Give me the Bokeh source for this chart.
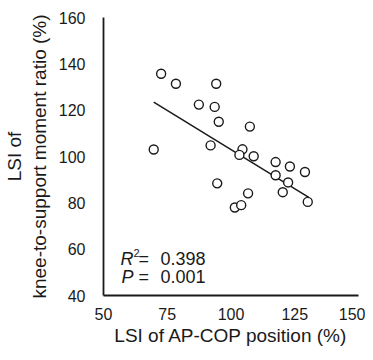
from bokeh.plotting import figure
from bokeh.models import Label, FixedTicker
from bokeh.embed import file_html
from bokeh.resources import INLINE

# data
lsi_cop = [72.6, 78.4, 94.2, 87.4, 93.6, 95.2, 107.4, 69.7, 92.0, 104.5, 103.3, 108.9,
           117.5, 123.1, 129.0, 117.5, 122.4, 94.6, 106.7, 120.3, 101.5, 104.0, 130.1]
lsi_moment = [135.7, 131.4, 131.4, 122.4, 121.4, 115.0, 112.9, 103.0, 104.8, 103.1, 100.7, 100.1,
              97.6, 95.7, 93.3, 91.9, 88.8, 88.4, 84.1, 84.6, 78.0, 79.0, 80.4]
fit_x = [69.7, 130.5]
fit_y = [123.5, 82.4]
x_ticks = [50, 75, 100, 125, 150]
y_ticks = [40, 60, 80, 100, 120, 140, 160]
r2_text = "0.398"
p_text = "0.001"

FONT = "Liberation Sans"
COL = "#1a1a1a"

p = figure(width=365, height=348, x_range=(50, 150), y_range=(40, 160),
           output_backend="svg", toolbar_location=None,
           min_border_left=103, min_border_right=7, min_border_top=17, min_border_bottom=49)
p.outline_line_color = None
p.grid.visible = False

for ax in (p.xaxis[0], p.yaxis[0]):
    ax.major_tick_line_color = None
    ax.minor_tick_line_color = None
    ax.axis_line_color = COL
    ax.axis_line_width = 1.8
    ax.major_label_text_font = FONT
    ax.major_label_text_font_size = "16px"
    ax.major_label_text_color = COL
    ax.axis_label_text_font = FONT
    ax.axis_label_text_font_size = "19px"
    ax.axis_label_text_font_style = "normal"
    ax.axis_label_text_color = COL

p.xaxis.ticker = FixedTicker(ticks=x_ticks)
p.yaxis.ticker = FixedTicker(ticks=y_ticks)
p.xaxis.axis_label = "LSI of AP-COP position (%)"
p.yaxis.axis_label = "LSI of\nknee-to-support moment ratio (%)"
p.xaxis.major_label_standoff = 6
p.yaxis.major_label_standoff = 12
p.xaxis.axis_label_standoff = 2
p.yaxis.axis_label_standoff = 6

p.line(fit_x, fit_y, line_color=COL, line_width=1.5)
p.scatter(lsi_cop, lsi_moment, size=9, marker="circle", fill_color="white",
          line_color=COL, line_width=1.4)

def lab(x, y, t, size="18px", style="normal"):
    p.add_layout(Label(x=x, y=y, x_units="screen", y_units="screen", text=t,
                       text_font=FONT, text_font_size=size, text_font_style=style,
                       text_color=COL, text_baseline="alphabetic"))

lab(17, 37, "R", style="italic")
lab(30, 43, "2", size="11px")
lab(35, 37, "=")
lab(57, 37, r2_text)
lab(18, 19, "P", style="italic")
lab(35, 19, "=")
lab(57, 19, p_text)

open("out.html", "w").write(file_html(p, INLINE))
